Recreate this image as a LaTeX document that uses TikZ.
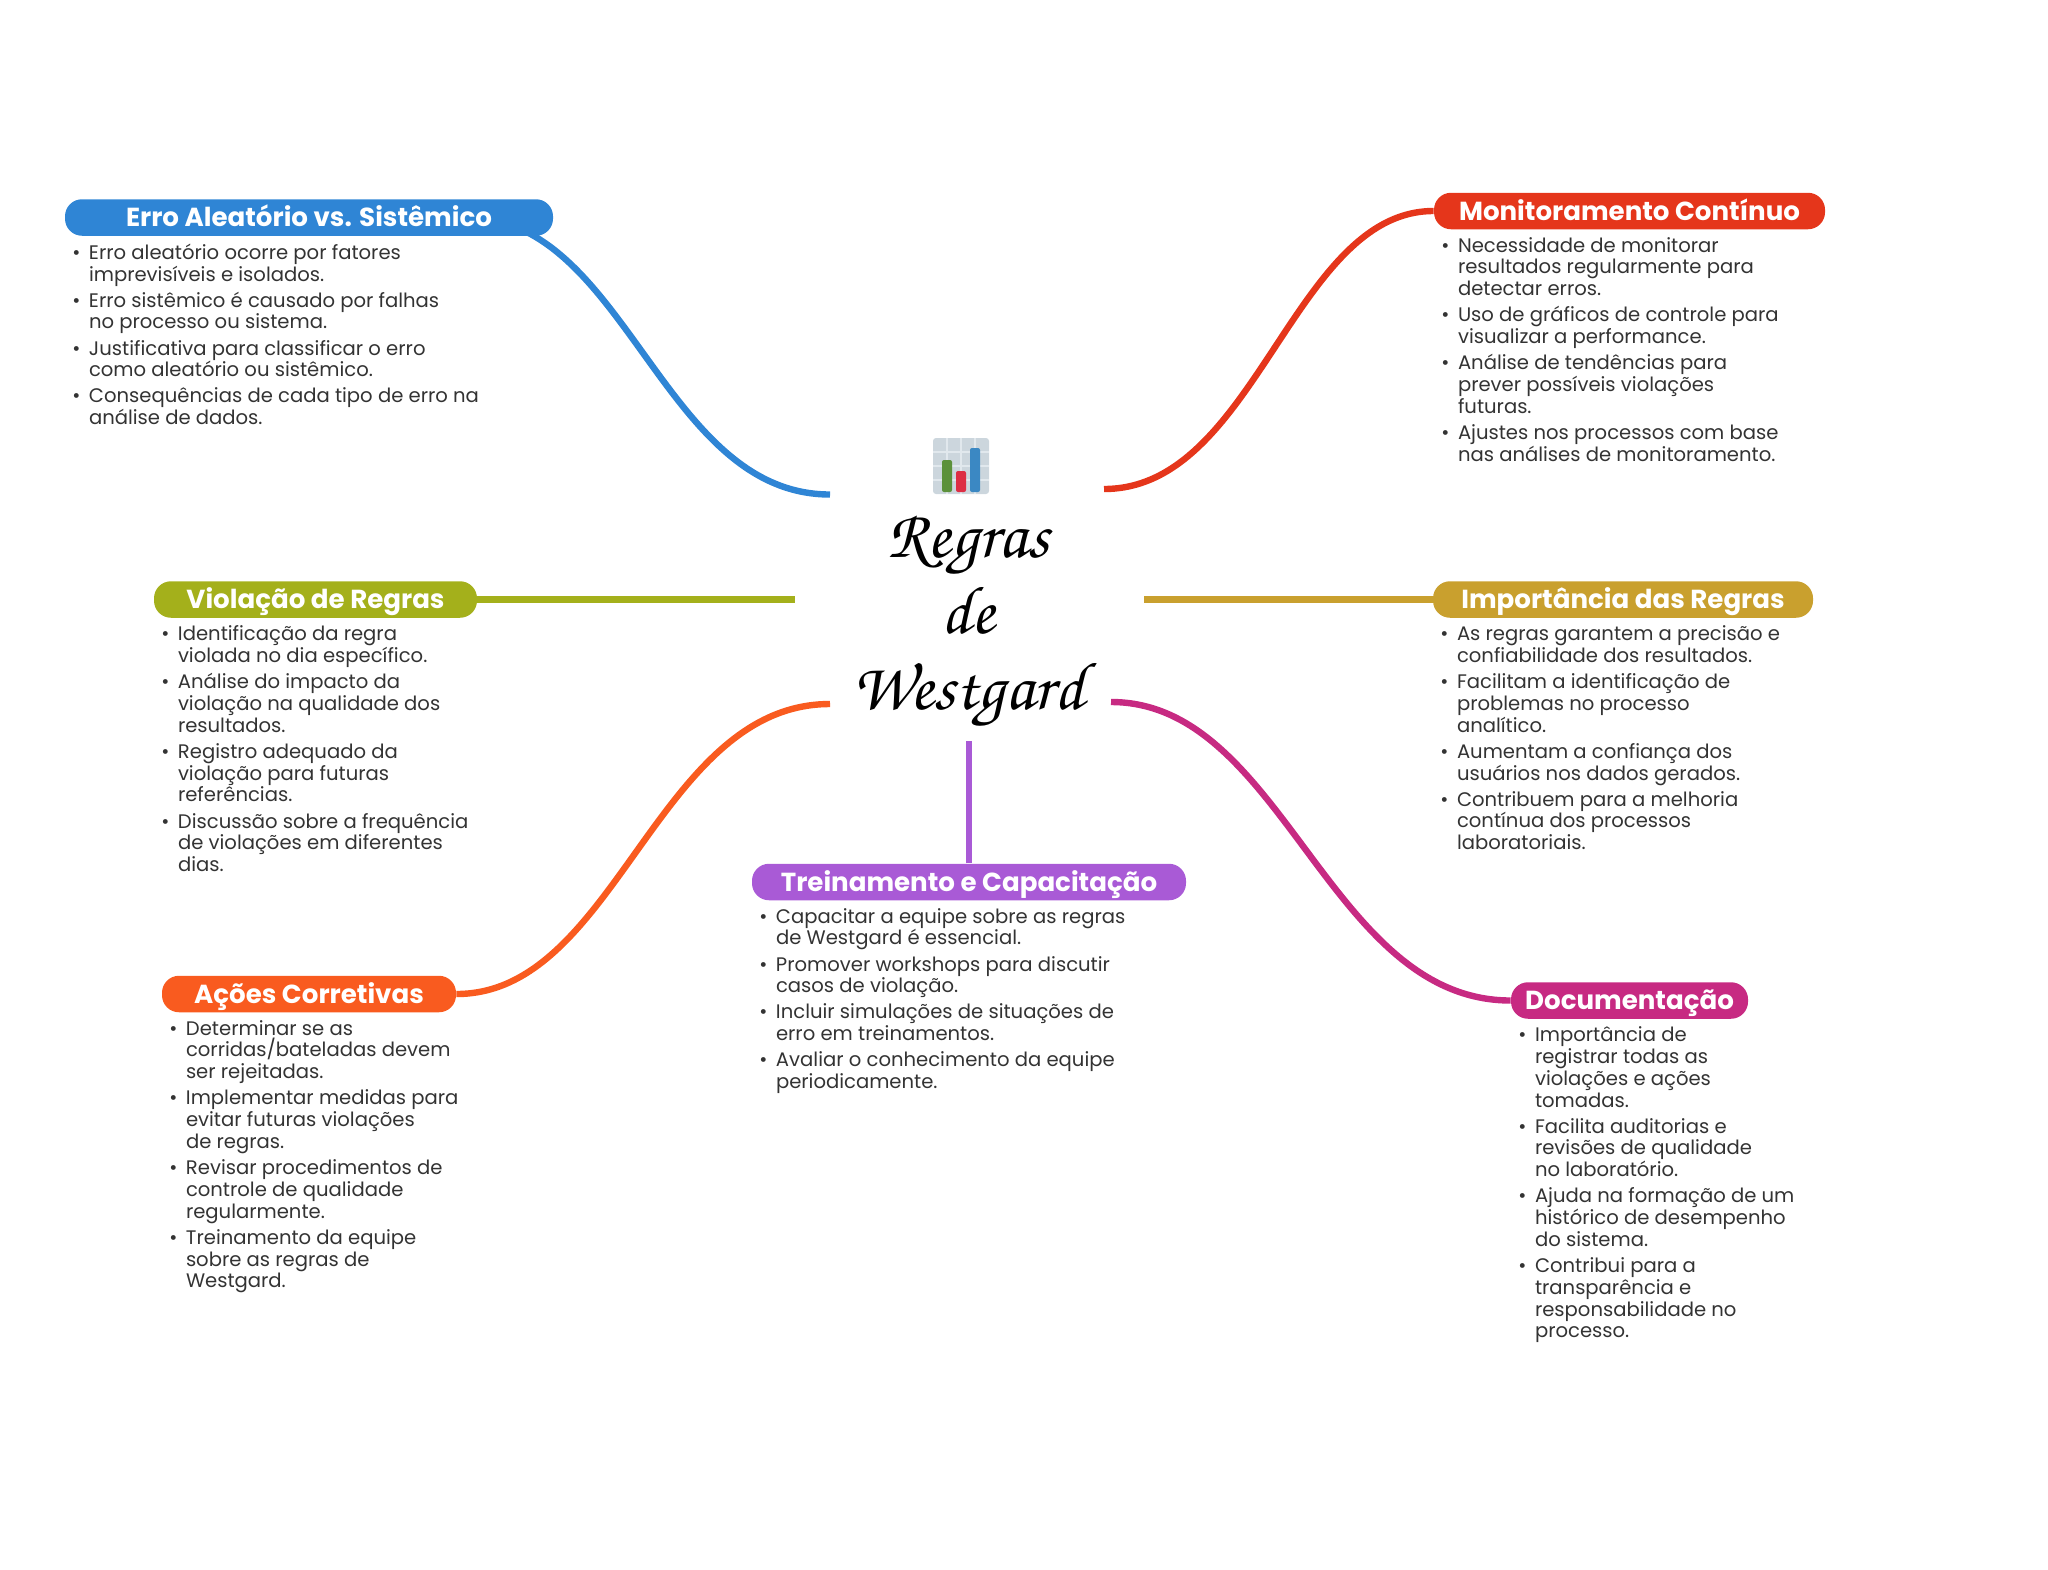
\documentclass[tikz,border=0pt]{standalone}
\usepackage{fontspec}
\setmainfont{Poppins}
\usepackage{xcolor}
\usetikzlibrary{positioning,backgrounds}
\definecolor{errocol}{HTML}{2F85D5}
\definecolor{monicol}{HTML}{E5361B}
\definecolor{violcol}{HTML}{A4B01B}
\definecolor{impocol}{HTML}{C9A02E}
\definecolor{acoecol}{HTML}{F95B1F}
\definecolor{treicol}{HTML}{A95AD6}
\definecolor{docucol}{HTML}{C72A82}
\definecolor{bodycol}{HTML}{333333}
\definecolor{tilecol}{HTML}{CCD6DD}
\definecolor{gridcol}{HTML}{E1E8ED}
\definecolor{barg}{HTML}{5C913B}
\definecolor{barr}{HTML}{DD2E44}
\definecolor{barb}{HTML}{3B88C3}
\newcommand{\itm}{\makebox[0pt][r]{\textbullet\hspace{4.3pt}}}
\newcommand{\nxt}{\\[2.15pt]}
\begin{document}
\begin{tikzpicture}[
  x=0.5pt, y=-0.5pt,
  head/.style={fill=#1, rounded corners=8.5pt, text=white, inner sep=0pt, text height=13.7pt, text depth=4.55pt, font=\fontsize{13.05}{14}\selectfont\bfseries},
  body/.style={inner sep=0pt, align=left, text=bodycol, font=\fontsize{9.8}{10.9}\selectfont},
  conn/.style={draw=#1, line width=3.2pt}
]
  \useasboundingbox (0,0) rectangle (2048,1569);

  % icon
  \fill[rounded corners=1.5pt, fill=tilecol] (933,438) rectangle (989,494);
  \foreach \gx in {947,961,975} \draw[gridcol, line width=0.8pt] (\gx,438) -- (\gx,494);
  \foreach \gy in {452,466,480} \draw[gridcol, line width=0.8pt] (933,\gy) -- (989,\gy);
  \fill[rounded corners=1pt, fill=barg] (942,460) rectangle (952,492);
  \fill[rounded corners=1pt, fill=barr] (956,471) rectangle (966,492);
  \fill[rounded corners=1pt, fill=barb] (970,448) rectangle (980,492);

  \node[align=center, inner sep=0pt, font=\fontsize{34}{37.9}\usefont{OT1}{pzc}{m}{it}] (title) at (968,622) {Regras\\de\\Westgard};

  \node[head=errocol, minimum width=244pt] (erro) at (309,217.5) {Erro Aleatório vs. Sistêmico};
  \node[head=monicol, minimum width=195.5pt] (moni) at (1629.5,211) {Monitoramento Contínuo};
  \node[head=violcol, minimum width=161.5pt] (viol) at (315.5,599.5) {Violação de Regras};
  \node[head=impocol, minimum width=190pt] (impo) at (1623,599.5) {Importância das Regras};
  \node[head=acoecol, minimum width=147pt] (acoe) at (309,994) {Ações Corretivas};
  \node[head=treicol, minimum width=217pt] (trei) at (969,882) {Treinamento e Capacitação};
  \node[head=docucol, minimum width=118.5pt] (docu) at (1629.5,1000.5) {Documentação};

  \node[body, below right=3.6pt and 12pt of erro.south west] (errotxt) {\itm Erro aleatório ocorre por fatores\\imprevisíveis e isolados.\nxt
    \itm Erro sistêmico é causado por falhas\\no processo ou sistema.\nxt
    \itm Justificativa para classificar o erro\\como aleatório ou sistêmico.\nxt
    \itm Consequências de cada tipo de erro na\\análise de dados.};
  \node[body, below right=3.6pt and 12pt of moni.south west] (monitxt) {\itm Necessidade de monitorar\\resultados regularmente para\\detectar erros.\nxt
    \itm Uso de gráficos de controle para\\visualizar a performance.\nxt
    \itm Análise de tendências para\\prever possíveis violações\\futuras.\nxt
    \itm Ajustes nos processos com base\\nas análises de monitoramento.};
  \node[body, below right=3.6pt and 12pt of viol.south west] (violtxt) {\itm Identificação da regra\\violada no dia específico.\nxt
    \itm Análise do impacto da\\violação na qualidade dos\\resultados.\nxt
    \itm Registro adequado da\\violação para futuras\\referências.\nxt
    \itm Discussão sobre a frequência\\de violações em diferentes\\dias.};
  \node[body, below right=3.6pt and 12pt of impo.south west] (impotxt) {\itm As regras garantem a precisão e\\confiabilidade dos resultados.\nxt
    \itm Facilitam a identificação de\\problemas no processo\\analítico.\nxt
    \itm Aumentam a confiança dos\\usuários nos dados gerados.\nxt
    \itm Contribuem para a melhoria\\contínua dos processos\\laboratoriais.};
  \node[body, below right=3.6pt and 12pt of acoe.south west] (acoetxt) {\itm Determinar se as\\corridas/bateladas devem\\ser rejeitadas.\nxt
    \itm Implementar medidas para\\evitar futuras violações\\de regras.\nxt
    \itm Revisar procedimentos de\\controle de qualidade\\regularmente.\nxt
    \itm Treinamento da equipe\\sobre as regras de\\Westgard.};
  \node[body, below right=3.6pt and 12pt of trei.south west] (treitxt) {\itm Capacitar a equipe sobre as regras\\de Westgard é essencial.\nxt
    \itm Promover workshops para discutir\\casos de violação.\nxt
    \itm Incluir simulações de situações de\\erro em treinamentos.\nxt
    \itm Avaliar o conhecimento da equipe\\periodicamente.};
  \node[body, below right=3.6pt and 12pt of docu.south west] (docutxt) {\itm Importância de\\registrar todas as\\violações e ações\\tomadas.\nxt
    \itm Facilita auditorias e\\revisões de qualidade\\no laboratório.\nxt
    \itm Ajuda na formação de um\\histórico de desempenho\\do sistema.\nxt
    \itm Contribui para a\\transparência e\\responsabilidade no\\processo.};

  \coordinate (erroend) at (830,494.5);
  \coordinate (moniend) at (1104,489);
  \coordinate (violend) at (795,599.5);
  \coordinate (impoend) at (1144,599.5);
  \coordinate (acoeend) at (830,704);
  \coordinate (treiend) at (969,741);
  \coordinate (docuend) at (1111,702);

  % the blue one starts inside its box
  \begin{scope}[on background layer]
    \draw[conn=errocol] ([xshift=79pt]erro.center) .. controls (626,217.5) and (662,494.5) .. (erroend);
  \end{scope}
  \draw[conn=monicol] (moni.west) .. controls (1293,211) and (1256,489) .. (moniend);
  \draw[conn=violcol] (viol.east) -- (violend);
  \draw[conn=impocol] (impo.west) -- (impoend);
  \draw[conn=acoecol] (acoe.east) .. controls (616,994) and (657,704) .. (acoeend);
  \draw[conn=treicol] (trei.north) -- (treiend);
  \draw[conn=docucol] (docu.west) .. controls (1328,1000.5) and (1283,702) .. (docuend);
\end{tikzpicture}
\end{document}
